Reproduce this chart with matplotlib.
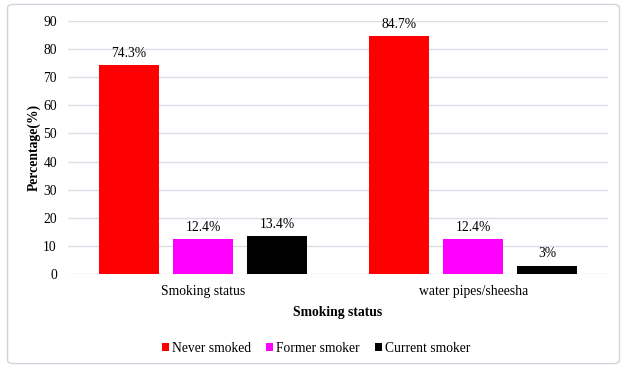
import matplotlib.pyplot as plt
import numpy as np
from matplotlib.patches import FancyBboxPatch

plt.rcParams['font.family'] = ['Liberation Serif', 'DejaVu Serif']

# Data
categories = ['Smoking status', 'water pipes/sheesha']
series_names = ['Never smoked', 'Former smoker', 'Current smoker']
never_smoked = [74.3, 84.7]
former_smoker = [12.4, 12.4]
current_smoker = [13.4, 3]
value_labels = [['74.3%', '84.7%'], ['12.4%', '12.4%'], ['13.4%', '3%']]
colors = ['#ff0000', '#ff00ff', '#000000']

fs = 9.8

fig = plt.figure(figsize=(6.27, 3.68), dpi=100)
ax = fig.add_axes([0.1085, 0.2554, 0.8615, 0.6876])

# outer rounded border
border = FancyBboxPatch((0.012, 0.012), 0.976, 0.976,
                        boxstyle='round,pad=0,rounding_size=0.01',
                        transform=fig.transFigure, fill=False,
                        edgecolor='#d0d4dc', linewidth=1.0)
fig.patches.append(border)

x = np.arange(len(categories))
width = 0.222
offset = 0.274
all_series = [never_smoked, former_smoker, current_smoker]
for i, (vals, name, col) in enumerate(zip(all_series, series_names, colors)):
    pos = x + (i - 1) * offset
    ax.bar(pos, vals, width, color=col, label=name, zorder=3)
    for p, v, lab in zip(pos, vals, value_labels[i]):
        ax.text(p, v + 1.9, lab, ha='center', va='bottom', fontsize=fs)

ax.set_xlim(-0.5, 1.5)
ax.set_ylim(0, 90)
ax.set_yticks(range(0, 91, 10))
ax.set_xticks(x)
ax.set_xticklabels(categories, fontsize=fs)
ax.tick_params(axis='y', labelsize=fs, length=0, pad=8)
ax.tick_params(axis='x', length=0, pad=8)
ax.grid(axis='y', color='#d9dde6', linewidth=1.0, zorder=0)
for s in ax.spines.values():
    s.set_visible(False)

ax.set_ylabel('Percentage(%)', fontsize=fs, fontweight='bold', labelpad=2)
ax.set_xlabel('Smoking status', fontsize=fs, fontweight='bold', labelpad=6)

ax.legend(loc='upper center', bbox_to_anchor=(0.459, -0.22), ncol=3,
          frameon=False, fontsize=fs, handlelength=0.55, handleheight=0.55,
          handletextpad=0.2, columnspacing=1.1)

fig.savefig('out.png', dpi=100)
